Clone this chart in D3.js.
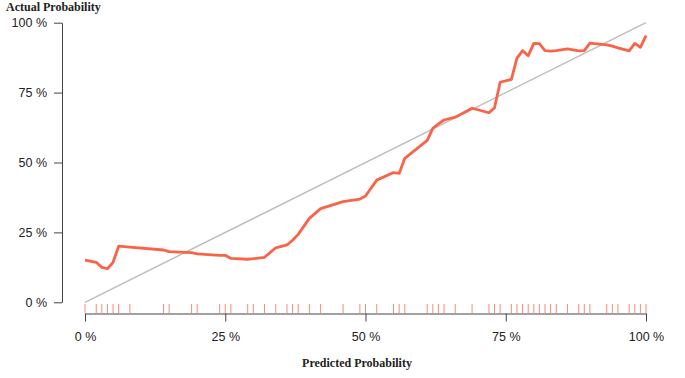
<!DOCTYPE html>
<html>
<head>
<meta charset="utf-8">
<script src="https://cdn.jsdelivr.net/npm/d3@7"></script>
<style>
  html, body { margin: 0; padding: 0; background: #fff; }
  svg { display: block; }
</style>
</head>
<body>
<svg id="chart" width="685" height="378"></svg>
<script>
// Predicted probability (%) for each observation (also the rug positions)
const predicted = [0,2,3,4,5,6,8,14,15,19,20,24,25,26,29,30,32,34,36,37,38,40,42,46,49,50,52,55,56,57,61,62,63,64,66,69,72,73,74,76,77,78,79,80,81,82,83,84,86,88,89,90,93,94,95,97,98,99,100];
// Actual (smoothed) probability (%) at each predicted value
const actual = [15.1,14.3,12.5,12.0,14.3,20.1,19.7,18.7,18.1,17.8,17.3,16.8,16.8,15.7,15.4,15.6,16.1,19.5,20.5,22.2,24.3,30.0,33.5,36.0,36.9,38.0,43.7,46.4,46.1,51.5,57.9,62.2,63.8,65.2,66.2,69.4,67.8,69.6,78.7,79.7,87.3,90.0,88.2,92.6,92.5,90.0,89.8,90.0,90.6,89.9,90.0,92.7,92.1,91.6,91.0,89.9,92.6,91.2,95.4];
// Axis ticks
const xTicks = [0, 25, 50, 75, 100];
const yTicks = [0, 25, 50, 75, 100];
const xTitle = "Predicted Probability";
const yTitle = "Actual Probability";

const svg = d3.select("#chart");
const x = d3.scaleLinear().domain([0, 100]).range([85, 646]);
const y = d3.scaleLinear().domain([0, 100]).range([302.3, 22.7]);

const fmt = d => d + " %";
const axisColor = "#444";
const lineColor = "#f96347";

// Y axis
const yAxis = svg.append("g")
  .attr("transform", "translate(62,0)")
  .call(d3.axisLeft(y).tickValues(yTicks).tickFormat(fmt).tickSizeInner(8).tickSizeOuter(0).tickPadding(7));
// X axis
const xAxis = svg.append("g")
  .attr("transform", "translate(0,313.5)")
  .call(d3.axisBottom(x).tickValues(xTicks).tickFormat(fmt).tickSizeInner(8).tickSizeOuter(0).tickPadding(11));

[yAxis, xAxis].forEach(g => {
  g.select(".domain").attr("stroke", axisColor).attr("stroke-width", 1);
  g.selectAll(".tick line").attr("stroke", axisColor).attr("stroke-width", 1);
  g.selectAll(".tick text")
    .attr("fill", "#222")
    .style("font-family", "'Liberation Sans', Arial, sans-serif")
    .style("font-size", "12.5px");
});

// Diagonal reference line
svg.append("line")
  .attr("x1", x(0)).attr("y1", y(0))
  .attr("x2", x(100)).attr("y2", y(100))
  .attr("stroke", "#bdbdbd").attr("stroke-width", 1.5);

// Rug
svg.append("g").selectAll("line")
  .data(predicted)
  .join("line")
  .attr("x1", d => x(d)).attr("x2", d => x(d))
  .attr("y1", 304).attr("y2", 313)
  .attr("stroke", lineColor).attr("stroke-opacity", 0.75).attr("stroke-width", 1);

// Calibration curve
const pts = predicted.map((p, i) => [p, actual[i]]);
svg.append("path")
  .datum(pts)
  .attr("fill", "none")
  .attr("stroke", lineColor)
  .attr("stroke-width", 2.8)
  .attr("stroke-linejoin", "round")
  .attr("d", d3.line().x(d => x(d[0])).y(d => y(d[1])));

// Titles
svg.append("text")
  .attr("x", 6).attr("y", 11)
  .style("font-family", "'Liberation Serif', 'Times New Roman', serif")
  .style("font-weight", "bold")
  .style("font-size", "12px")
  .attr("fill", "#222")
  .text(yTitle);

svg.append("text")
  .attr("x", 357).attr("y", 367)
  .attr("text-anchor", "middle")
  .style("font-family", "'Liberation Serif', 'Times New Roman', serif")
  .style("font-weight", "bold")
  .style("font-size", "12px")
  .attr("fill", "#222")
  .text(xTitle);
</script>
</body>
</html>
